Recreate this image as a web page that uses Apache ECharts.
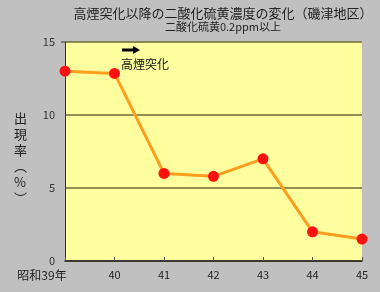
<!DOCTYPE html>
<html><head><meta charset="utf-8">
<script src="https://cdn.jsdelivr.net/npm/echarts@6/dist/echarts.min.js"></script>
<style>html,body{margin:0;padding:0;background:#c0c0c0}#c{width:380px;height:292px}</style>
</head><body><div id="c"></div>
<script>
const categories = ['昭和39年','40','41','42','43','44','45'];
const values = [13.0, 12.85, 6.0, 5.8, 7.0, 2.0, 1.5];
const yTicks = [0, 5, 10, 15];
const titleText = '高煙突化以降の二酸化硫黄濃度の変化（磯津地区）';
const subText = '二酸化硫黄0.2ppm以上';
const axisName = ['出','現','率','︵','%','︶'];
const annotation = '高煙突化';

const font = '"Noto Sans CJK JP", sans-serif';
const chart = echarts.init(document.getElementById('c'), null, {renderer:'canvas'});
chart.setOption({
  backgroundColor:'#c0c0c0',
  animation:false,
  title:{text:titleText, subtext:subText, left:218, textAlign:'center', top:2, itemGap:1,
    textStyle:{fontFamily:font, fontSize:13, fontWeight:'normal', color:'#222'},
    subtextStyle:{fontFamily:font, fontSize:11, color:'#222'}},
  grid:{left:65, right:18, top:42, bottom:31, show:true, backgroundColor:'#ffff9f', borderWidth:0},
  xAxis:{type:'category', data:categories, boundaryGap:false,
    axisLine:{lineStyle:{color:'#222', width:1.5}},
    axisTick:{show:true, alignWithLabel:true, length:-4, lineStyle:{color:'#555'}},
    axisLabel:{fontFamily:font, fontSize:11, color:'#222', margin:8, interval:0,
      formatter:(v,i)=> i===0 ? '{a|'+v+'}' : v,
      rich:{a:{fontFamily:font, fontSize:12, color:'#222', padding:[0,46,0,0]}}}},
  yAxis:{type:'value', min:0, max:15, interval:5,
    axisLine:{show:true, lineStyle:{color:'#333'}},
    axisTick:{show:false},
    splitLine:{show:true, lineStyle:{color:'#6e6a3a', width:1.5}},
    axisLabel:{fontFamily:font, fontSize:11, color:'#333', margin:10,
      formatter:v=> yTicks.includes(v) ? String(v) : ''}},
  series:[{type:'line', data:values, symbol:'circle', symbolSize:11,
    lineStyle:{color:'#ff9d1e', width:3}, itemStyle:{color:'#ff1010'}, z:3}],
});
const p0 = chart.convertToPixel({gridIndex:0}, [0, 15]);
chart.setOption({graphic:[
  {type:'text', left:14, top:110, style:{text:axisName.join('\n'), fontFamily:font, fontSize:13, lineHeight:16, fill:'#222', align:'left'}},
  {type:'line', shape:{x1:122, y1:50, x2:134, y2:50}, style:{stroke:'#000', lineWidth:3}},
  {type:'polygon', shape:{points:[[133,46],[140,50],[133,54]]}, style:{fill:'#000'}},
  {type:'text', left:121, top:58, style:{text:annotation, fontFamily:font, fontSize:12, fill:'#111'}},
  {type:'line', shape:{x1:p0[0]-4, y1:p0[1], x2:p0[0], y2:p0[1]}, style:{stroke:'#333', lineWidth:1}}
]});
</script></body></html>
